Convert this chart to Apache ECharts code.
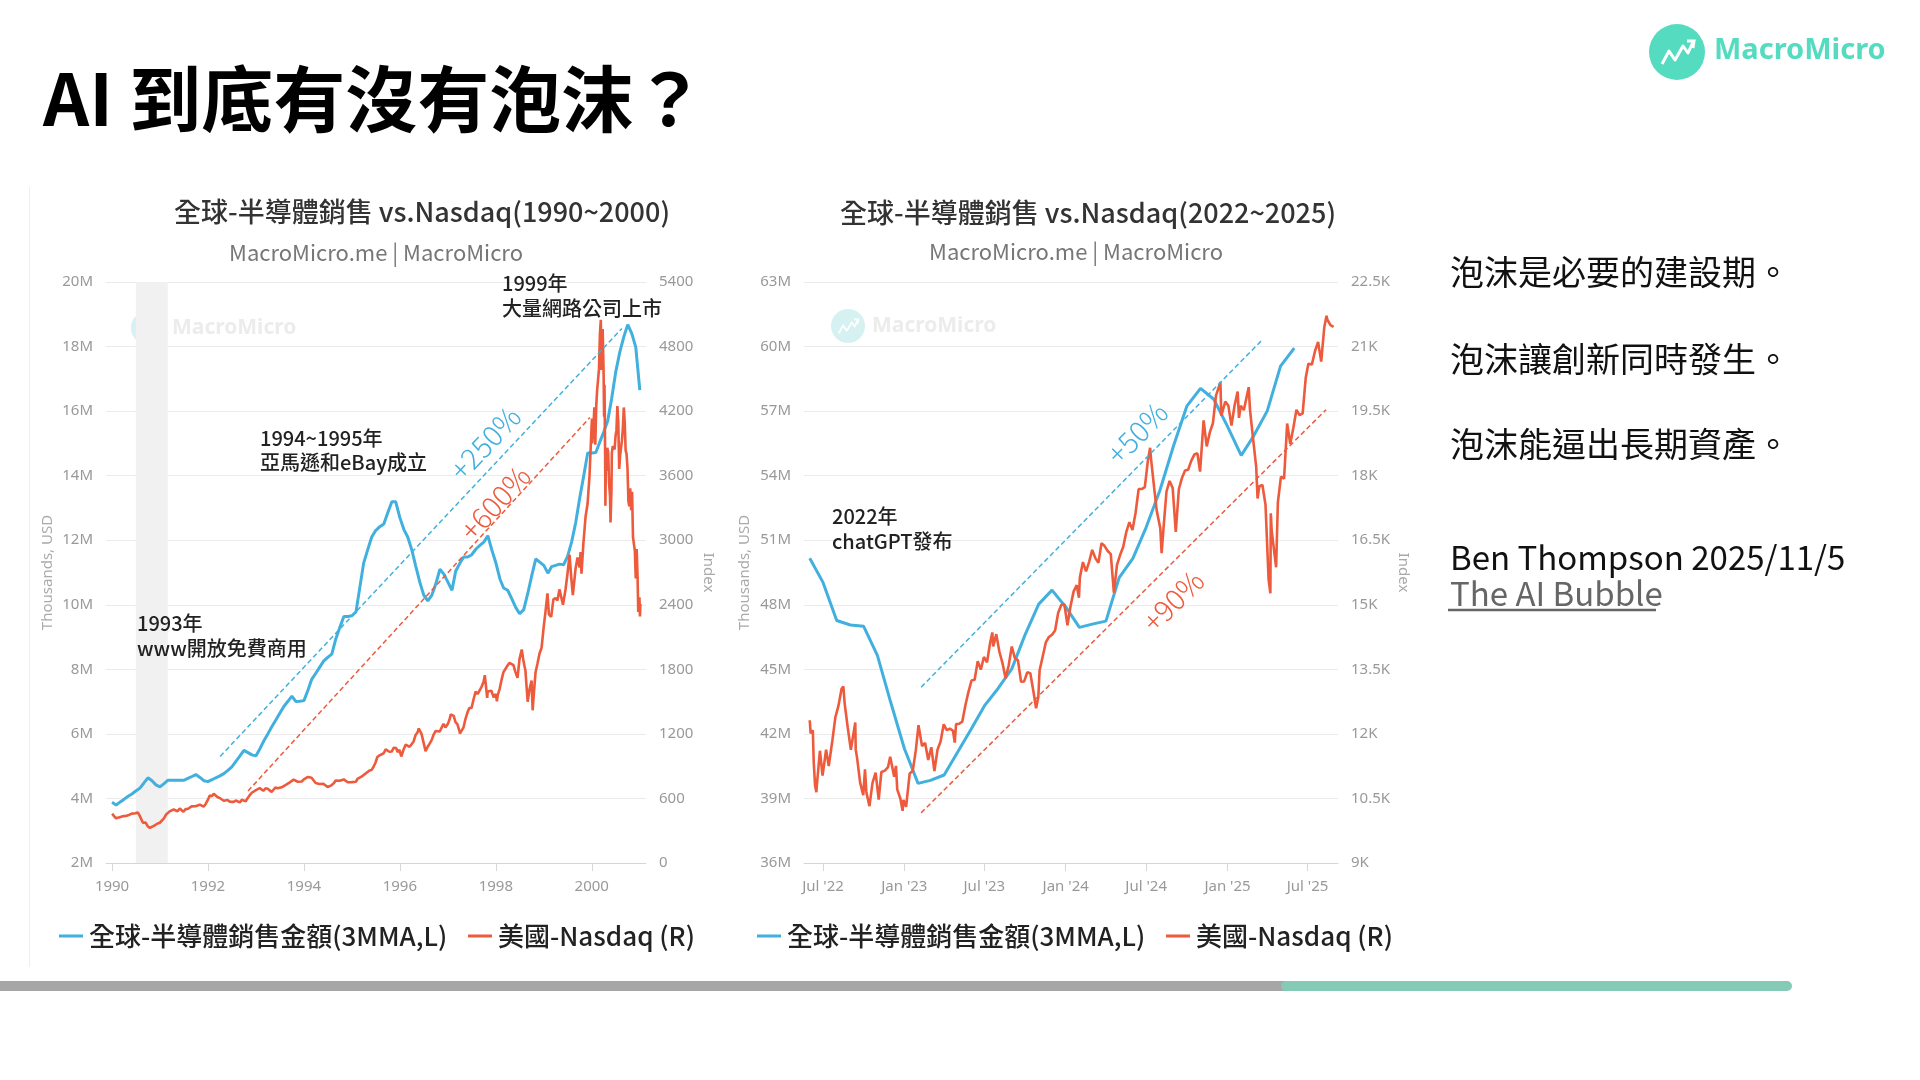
<!DOCTYPE html>
<html>
<head>
<meta charset="utf-8">
<script src="https://cdn.jsdelivr.net/npm/echarts@6/dist/echarts.min.js"></script>
<style>
html, body { margin: 0; padding: 0; background: #fff; }
#main { width: 1920px; height: 1080px; }
</style>
</head>
<body>
<div id="main"></div>
<script>
// ---- data ----
// global semiconductor sales, 3MMA, millions of thousand USD, monthly from Jan 1990
var chipStart90 = '1990-01';
var chipSales90 = [
  3.88, 3.80, 3.88, 3.97, 4.06, 4.14, 4.23, 4.32, 4.48, 4.64, 4.55, 4.42,
  4.36, 4.46, 4.56, 4.56, 4.56, 4.56, 4.56, 4.62, 4.68, 4.74, 4.65, 4.55,
  4.52, 4.58, 4.64, 4.70, 4.77, 4.87, 4.98, 5.15, 5.32, 5.49, 5.42, 5.35,
  5.32, 5.55, 5.78, 6.00, 6.22, 6.43, 6.64, 6.85, 7.01, 7.17, 7.00, 7.01,
  7.03, 7.36, 7.69, 7.88, 8.07, 8.26, 8.37, 8.47, 8.95, 9.30, 9.64, 9.64,
  9.66, 9.78, 10.50, 11.30, 11.70, 12.10, 12.30, 12.42, 12.50, 12.85, 13.19, 13.19,
  12.70, 12.33, 12.10, 11.70, 11.20, 10.70, 10.30, 10.12, 10.30, 10.65, 11.10, 10.95,
  10.70, 10.45, 11.04, 11.28, 11.48, 11.48, 11.55, 11.72, 11.84, 11.94, 12.14, 11.70,
  11.30, 10.80, 10.52, 10.45, 10.20, 9.92, 9.72, 9.85, 10.35, 10.90, 11.42, 11.32,
  11.22, 10.98, 11.18, 11.22, 11.26, 11.24, 11.50, 11.95, 12.55, 13.30, 14.00, 14.70,
  14.70, 14.72, 15.03, 15.35, 15.69, 16.40, 17.20, 17.82, 18.30, 18.68, 18.40, 17.98,
  16.65
];

// Nasdaq composite 1990-2000
var nasdaq90 = [
  ['1990-01-02',459],['1990-01-15',437],['1990-01-31',416],['1990-02-15',434],['1990-02-28',426],
  ['1990-03-15',437],['1990-03-30',436],['1990-04-16',437],['1990-04-30',420],['1990-05-15',449],
  ['1990-05-31',459],['1990-06-15',466],['1990-06-29',462],['1990-07-16',470],['1990-07-31',438],
  ['1990-08-15',425],['1990-08-24',374],['1990-08-31',381],['1990-09-14',375],['1990-09-28',344],
  ['1990-10-16',326],['1990-10-31',330],['1990-11-15',345],['1990-11-30',359],['1990-12-14',367],
  ['1990-12-31',374],
  ['1991-01-15',363],['1991-01-31',414],['1991-02-15',448],['1991-02-28',453],['1991-03-15',480],
  ['1991-03-28',482],['1991-04-15',497],['1991-04-30',485],['1991-05-15',481],['1991-05-31',506],
  ['1991-06-14',497],['1991-06-28',476],['1991-07-15',501],['1991-07-31',502],['1991-08-15',515],
  ['1991-08-30',526],['1991-09-13',522],['1991-09-30',527],['1991-10-15',535],['1991-10-31',543],
  ['1991-11-15',535],['1991-11-29',524],['1991-12-13',544],['1991-12-31',586],
  ['1992-01-15',627],['1992-01-31',620],['1992-02-14',644],['1992-02-28',634],['1992-03-13',613],
  ['1992-03-31',604],['1992-04-15',590],['1992-04-30',579],['1992-05-15',579],['1992-05-29',585],
  ['1992-06-15',570],['1992-06-30',564],['1992-07-15',568],['1992-07-31',581],['1992-08-14',568],
  ['1992-08-31',563],['1992-09-15',588],['1992-09-30',583],['1992-10-15',573],['1992-10-30',605],
  ['1992-11-13',628],['1992-11-30',653],['1992-12-15',661],['1992-12-31',677],
  ['1993-01-15',689],['1993-01-29',696],['1993-02-12',689],['1993-02-26',671],['1993-03-15',694],
  ['1993-03-31',690],['1993-04-15',672],['1993-04-30',661],['1993-05-14',681],['1993-05-28',701],
  ['1993-06-15',695],['1993-06-30',704],['1993-07-15',704],['1993-07-30',705],['1993-08-16',727],
  ['1993-08-31',743],['1993-09-15',750],['1993-09-30',763],['1993-10-15',775],['1993-10-29',779],
  ['1993-11-15',755],['1993-11-30',754],['1993-12-15',758],['1993-12-31',777],
  ['1994-01-14',790],['1994-01-31',800],['1994-02-15',795],['1994-02-28',793],['1994-03-15',790],
  ['1994-03-31',744],['1994-04-15',730],['1994-04-29',734],['1994-05-13',721],['1994-05-31',735],
  ['1994-06-15',735],['1994-06-30',706],['1994-07-15',712],['1994-07-29',722],['1994-08-15',740],
  ['1994-08-31',766],['1994-09-15',772],['1994-09-30',764],['1994-10-14',770],['1994-10-31',777],
  ['1994-11-15',778],['1994-11-30',750],['1994-12-15',738],['1994-12-30',752],
  ['1995-01-13',765],['1995-01-31',755],['1995-02-15',785],['1995-02-28',794],['1995-03-15',802],
  ['1995-03-31',817],['1995-04-13',830],['1995-04-28',844],['1995-05-15',860],['1995-05-31',865],
  ['1995-06-15',895],['1995-06-30',934],['1995-07-14',985],['1995-07-31',1001],['1995-08-15',1010],
  ['1995-08-31',1020],['1995-09-15',1056],['1995-09-29',1044],['1995-10-13',1034],['1995-10-31',1036],
  ['1995-11-15',1070],['1995-11-30',1059],['1995-12-04',1069],['1995-12-15',1030],['1995-12-29',1052],
  ['1996-01-12',990],['1996-01-31',1060],['1996-02-15',1100],['1996-02-29',1100],['1996-03-15',1080],
  ['1996-03-29',1101],['1996-04-15',1130],['1996-04-30',1190],['1996-05-15',1215],['1996-05-24',1250],
  ['1996-05-31',1243],['1996-06-14',1200],['1996-06-28',1185],['1996-07-15',1040],['1996-07-24',1042],
  ['1996-07-31',1081],['1996-08-15',1110],['1996-08-30',1142],['1996-09-13',1190],['1996-09-30',1227],
  ['1996-10-15',1245],['1996-10-31',1222],['1996-11-15',1260],['1996-11-29',1293],['1996-12-13',1260],
  ['1996-12-31',1291],
  ['1997-01-15',1340],['1997-01-22',1380],['1997-01-31',1380],['1997-02-14',1367],['1997-02-28',1309],
  ['1997-03-14',1290],['1997-03-31',1222],['1997-04-02',1202],['1997-04-15',1215],['1997-04-30',1261],
  ['1997-05-15',1340],['1997-05-30',1400],['1997-06-13',1440],['1997-06-30',1442],['1997-07-15',1520],
  ['1997-07-31',1594],['1997-08-15',1570],['1997-08-29',1587],['1997-09-15',1640],['1997-09-30',1686],
  ['1997-10-09',1745],['1997-10-27',1535],['1997-10-31',1594],['1997-11-14',1590],['1997-11-28',1601],
  ['1997-12-15',1540],['1997-12-31',1570],
  ['1998-01-09',1503],['1998-01-15',1560],['1998-01-30',1619],['1998-02-13',1700],['1998-02-27',1771],
  ['1998-03-13',1760],['1998-03-31',1836],['1998-04-15',1860],['1998-04-30',1868],['1998-05-15',1840],
  ['1998-05-29',1779],['1998-06-15',1720],['1998-06-30',1895],['1998-07-17',1985],['1998-07-31',1872],
  ['1998-08-14',1790],['1998-08-31',1499],['1998-09-15',1620],['1998-09-30',1695],['1998-10-08',1419],
  ['1998-10-15',1540],['1998-10-30',1771],['1998-11-13',1850],['1998-11-30',1950],['1998-12-15',2000],
  ['1998-12-31',2193],
  ['1999-01-15',2348],['1999-01-29',2506],['1999-02-09',2310],['1999-02-26',2288],['1999-03-15',2450],
  ['1999-03-31',2461],['1999-04-15',2440],['1999-04-30',2543],['1999-05-14',2530],['1999-05-27',2400],
  ['1999-06-15',2540],['1999-06-30',2686],['1999-07-16',2865],['1999-07-30',2638],['1999-08-10',2490],
  ['1999-08-31',2739],['1999-09-15',2840],['1999-09-30',2746],['1999-10-08',2890],['1999-10-15',2690],
  ['1999-10-29',2966],['1999-11-15',3220],['1999-11-30',3336],['1999-12-15',3600],['1999-12-31',4069],
  ['2000-01-03',4131],['2000-01-04',3901],['2000-01-14',4064],['2000-01-21',4235],['2000-01-28',3887],
  ['2000-02-04',4244],['2000-02-11',4395],['2000-02-18',4411],['2000-02-25',4590],['2000-03-03',4914],
  ['2000-03-10',5048],['2000-03-15',4583],['2000-03-17',4798],['2000-03-24',4964],['2000-03-31',4573],
  ['2000-04-04',4148],['2000-04-07',4446],['2000-04-12',3770],['2000-04-14',3321],['2000-04-18',3794],
  ['2000-04-21',3643],['2000-04-28',3860],['2000-05-05',3817],['2000-05-12',3529],['2000-05-19',3410],
  ['2000-05-23',3164],['2000-05-30',3459],['2000-06-02',3813],['2000-06-09',3874],['2000-06-16',3860],
  ['2000-06-23',3845],['2000-06-30',3966],['2000-07-07',4023],['2000-07-14',4246],['2000-07-21',4095],
  ['2000-07-28',3663],['2000-08-04',3787],['2000-08-11',3789],['2000-08-18',3930],['2000-08-25',4042],
  ['2000-09-01',4234],['2000-09-08',4098],['2000-09-15',3835],['2000-09-22',3803],['2000-09-29',3673],
  ['2000-10-06',3361],['2000-10-13',3316],['2000-10-20',3483],['2000-10-27',3278],['2000-11-03',3451],
  ['2000-11-10',3028],['2000-11-17',3028],['2000-11-24',2904],['2000-12-01',2645],['2000-12-08',2917],
  ['2000-12-15',2653],['2000-12-20',2332],['2000-12-29',2470],['2001-01-02',2291],['2001-01-05',2407]
];

// global semiconductor sales, 3MMA, monthly from Jun 2022
var chipStart22 = '2022-06';
var chipSales22 = [
  50.16, 49.04, 47.27, 47.06, 47.00, 45.65, 43.48,
  41.32, 39.70, 39.84, 40.09, 41.14, 42.22, 43.30, 44.11, 45.02, 46.60, 48.03, 48.68,
  47.90, 46.95, 47.10, 47.24, 49.26, 50.16, 51.60, 53.31, 55.39, 57.23, 58.06, 57.55,
  56.29, 54.94, 55.84, 57.01, 59.09, 59.93
];

// Nasdaq composite 2022-2025
var nasdaq22 = [
  ['2022-06-01',12317],['2022-06-03',12013],['2022-06-08',12086],['2022-06-10',11340],['2022-06-13',10809],
  ['2022-06-16',10646],['2022-06-17',10798],['2022-06-24',11608],['2022-06-30',11029],['2022-07-08',11635],
  ['2022-07-14',11251],['2022-07-22',11834],['2022-07-29',12391],['2022-08-05',12657],['2022-08-12',13047],
  ['2022-08-16',13103],['2022-08-19',12705],['2022-08-26',12142],['2022-09-02',11631],['2022-09-12',12266],
  ['2022-09-13',11634],['2022-09-16',11448],['2022-09-23',10868],['2022-09-30',10576],['2022-10-04',11176],
  ['2022-10-07',10652],['2022-10-14',10321],['2022-10-21',10860],['2022-10-28',11102],['2022-11-04',10475],
  ['2022-11-10',11114],['2022-11-18',11146],['2022-11-25',11226],['2022-11-30',11468],['2022-12-09',11005],
  ['2022-12-13',11256],['2022-12-16',10705],['2022-12-23',10498],['2022-12-28',10213],['2022-12-30',10466],
  ['2023-01-05',10305],['2023-01-13',11079],['2023-01-20',11140],['2023-01-27',11622],['2023-02-02',12201],
  ['2023-02-10',11718],['2023-02-17',11787],['2023-02-24',11395],['2023-03-03',11689],['2023-03-10',11138],
  ['2023-03-17',11631],['2023-03-24',11824],['2023-03-31',12222],['2023-04-07',12088],['2023-04-14',12123],
  ['2023-04-21',12073],['2023-04-25',11799],['2023-04-28',12227],['2023-05-05',12235],['2023-05-12',12284],
  ['2023-05-19',12658],['2023-05-26',12976],['2023-06-02',13241],['2023-06-09',13259],['2023-06-16',13690],
  ['2023-06-23',13492],['2023-06-30',13788],['2023-07-07',13661],['2023-07-14',14114],['2023-07-19',14358],
  ['2023-07-21',14032],['2023-07-28',14317],['2023-08-04',13909],['2023-08-11',13645],['2023-08-18',13291],
  ['2023-08-25',13590],['2023-09-01',14031],['2023-09-08',13762],['2023-09-15',13708],['2023-09-22',13212],
  ['2023-09-29',13219],['2023-10-06',13431],['2023-10-13',13407],['2023-10-20',12984],['2023-10-26',12595],
  ['2023-10-31',12851],['2023-11-03',13478],['2023-11-10',13798],['2023-11-17',14125],['2023-11-24',14251],
  ['2023-12-01',14305],['2023-12-08',14404],['2023-12-15',14814],['2023-12-22',14993],['2023-12-29',15011],
  ['2024-01-05',14524],['2024-01-12',14973],['2024-01-19',15311],['2024-01-26',15455],['2024-01-31',15164],
  ['2024-02-02',15629],['2024-02-09',15991],['2024-02-16',15776],['2024-02-23',15997],['2024-03-01',16275],
  ['2024-03-08',16085],['2024-03-15',15973],['2024-03-22',16429],['2024-03-28',16379],['2024-04-05',16249],
  ['2024-04-12',16175],['2024-04-19',15282],['2024-04-26',15928],['2024-05-03',16156],['2024-05-10',16341],
  ['2024-05-17',16686],['2024-05-24',16921],['2024-05-31',16735],['2024-06-07',17133],['2024-06-14',17689],
  ['2024-06-21',17689],['2024-06-28',17733],['2024-07-05',18353],['2024-07-10',18647],['2024-07-12',18398],
  ['2024-07-19',17727],['2024-07-25',17182],['2024-08-02',16776],['2024-08-05',16200],['2024-08-09',16745],
  ['2024-08-16',17632],['2024-08-23',17877],['2024-08-30',17714],['2024-09-06',16691],['2024-09-13',17684],
  ['2024-09-20',17948],['2024-09-27',18120],['2024-10-04',18138],['2024-10-11',18343],['2024-10-18',18490],
  ['2024-10-25',18519],['2024-10-31',18095],['2024-11-08',19287],['2024-11-15',18680],['2024-11-22',19004],
  ['2024-11-29',19218],['2024-12-06',19860],['2024-12-16',20173],['2024-12-18',19393],['2024-12-27',19722],
  ['2025-01-03',19622],['2025-01-10',19162],['2025-01-17',19630],['2025-01-24',19954],['2025-01-27',19342],
  ['2025-01-31',19627],['2025-02-07',19523],['2025-02-18',20056],['2025-02-21',19524],['2025-02-28',18847],
  ['2025-03-07',18196],['2025-03-10',17468],['2025-03-14',17754],['2025-03-21',17784],['2025-03-28',17323],
  ['2025-04-04',15588],['2025-04-08',15268],['2025-04-09',17125],['2025-04-11',16724],['2025-04-21',15871],
  ['2025-04-25',17383],['2025-05-02',17978],['2025-05-09',17929],['2025-05-16',19212],['2025-05-23',18737],
  ['2025-05-30',19114],['2025-06-06',19530],['2025-06-13',19407],['2025-06-20',19447],['2025-06-27',20273],
  ['2025-07-03',20601],['2025-07-11',20586],['2025-07-18',20896],['2025-07-25',21108],['2025-08-01',20650],
  ['2025-08-08',21450],['2025-08-13',21713],['2025-08-15',21623],['2025-08-22',21496],['2025-08-29',21456]
];

// x ticks
var yearTicks90 = ['1990-01-01', '1992-01-01', '1994-01-01', '1996-01-01', '1998-01-01', '2000-01-01'];
var monthTicks22 = ['2022-07-01', '2023-01-01', '2023-07-01', '2024-01-01', '2024-07-01', '2025-01-01', '2025-07-01'];

// shaded recession, trend arrows [start, end] in [date, value]
var recession90 = ['1990-07-01', '1991-03-01'];
var arrowChip90 = [['1992-04-03', 5.30], ['2000-08-17', 18.56]];
var arrowNdq90 = [['1992-11-01', 669], ['1999-12-18', 4141]];
var arrowChip22 = [['2023-02-08', 44.17], ['2025-03-19', 60.28]];
var arrowNdq22 = [['2023-02-08', 10165], ['2025-08-12', 19533]];

var CHIP = '全球-半導體銷售金額(3MMA,L)';
var NDQ = '美國-Nasdaq (R)';
var BLUE = '#41b0de';
var RED = '#ee5a3c';
var CJK = '"Noto Sans CJK TC", "Noto Sans", sans-serif';
var LAT = '"Noto Sans", sans-serif';

function ts(s) {
  var p = s.split('-');
  return +new Date(+p[0], +p[1] - 1, +(p[2] || 1));
}
function monthly(start, values) {
  var p = start.split('-');
  return values.map(function (v, i) { return [+new Date(+p[0], +p[1] - 1 + i, 1), v]; });
}
function pairs(list) {
  return list.map(function (d) { return [ts(d[0]), d[1]]; });
}
function arrow(a, color) {
  return {
    silent: true,
    symbol: ['none', 'arrow'],
    symbolSize: [0, 9],
    label: { show: false },
    lineStyle: { color: color, width: 1.5, type: [5, 3] },
    emphasis: { disabled: true },
    data: [[{ coord: [ts(a[0][0]), a[0][1]] }, { coord: [ts(a[1][0]), a[1][1]] }]]
  };
}

// dates are drawn on a value axis of timestamps so the ticks can sit on given dates
function dateAxis(grid, min, max, ticks, fmt) {
  var vals = ticks.map(ts);
  return {
    type: 'value', gridIndex: grid, min: ts(min), max: ts(max), scale: true,
    axisLine: { show: true, lineStyle: { color: '#d6d6d6' } },
    axisTick: { show: true, customValues: vals, length: 8, lineStyle: { color: '#d6d6d6' } },
    axisLabel: { customValues: vals, formatter: fmt, color: '#999', fontSize: 15, fontFamily: LAT, margin: 16 },
    splitLine: { show: false }
  };
}
function valAxis(grid, pos, min, max, step, fmt, name, gap, split) {
  return {
    type: 'value', gridIndex: grid, position: pos, min: min, max: max, interval: step,
    axisLine: { show: false }, axisTick: { show: false },
    axisLabel: { formatter: fmt, color: '#999', fontSize: 15, fontFamily: LAT, margin: 13 },
    splitLine: { show: split, lineStyle: { color: '#ebebeb' } },
    name: name, nameLocation: 'middle', nameRotate: pos === 'left' ? 90 : -90, nameGap: gap,
    nameTextStyle: { color: '#aaa', fontSize: 15, fontFamily: LAT }
  };
}

function txt(x, y, text, font, fill, align, valign, rot, lh) {
  return {
    type: 'text', x: x, y: y, rotation: rot || 0, silent: true, z: 100,
    style: {
      text: text, font: font, fill: fill, lineHeight: lh,
      textAlign: align || 'left', align: align || 'left',
      textVerticalAlign: valign || 'middle', verticalAlign: valign || 'middle'
    }
  };
}
function logoMark(cx, cy, r, fill, stroke, z) {
  var k = r / 28;
  var pts = [[-15, 12], [-8, -1], [-2, 8], [6, -6], [11, 1], [16, -10]].map(function (p) {
    return [cx + p[0] * k, cy + p[1] * k];
  });
  return [
    { type: 'circle', silent: true, z: z, shape: { cx: cx, cy: cy, r: r }, style: { fill: fill } },
    { type: 'polyline', silent: true, z: z, shape: { points: pts },
      style: { stroke: stroke, lineWidth: 3 * k, fill: null, lineJoin: 'round' } },
    { type: 'polyline', silent: true, z: z, shape: { points: [[cx + 10 * k, cy - 11 * k], [cx + 17 * k, cy - 11 * k], [cx + 16 * k, cy - 4 * k]] },
      style: { stroke: stroke, lineWidth: 3 * k, fill: null } }
  ];
}
function deg(d) { return d * Math.PI / 180; }

var legendBase = {
  icon: 'rect', itemWidth: 24, itemHeight: 3, itemGap: 0, padding: 0, top: 923, selectedMode: false,
  textStyle: { fontSize: 26, fontWeight: 500, color: '#222', fontFamily: CJK, padding: [0, 0, 0, 1] }
};
function legendAt(left, name) {
  return Object.assign({}, legendBase, { left: left, data: [name] });
}

var graphics = [
  txt(43, 99, 'AI 到底有沒有泡沫？', 'bold 72px ' + CJK, '#000'),
  txt(1714, 51, 'MacroMicro', 'bold 29px ' + LAT, '#55dcc0'),
  { type: 'line', silent: true, shape: { x1: 29.5, y1: 187, x2: 29.5, y2: 967 }, style: { stroke: '#eeeeee', lineWidth: 1 } },

  txt(422, 212, '全球-半導體銷售 vs.Nasdaq(1990~2000)', '500 27px ' + CJK, '#333', 'center'),
  txt(376, 253, 'MacroMicro.me | MacroMicro', '22px ' + CJK, '#777', 'center'),
  txt(1088, 213, '全球-半導體銷售 vs.Nasdaq(2022~2025)', '500 27px ' + CJK, '#333', 'center'),
  txt(1076, 252, 'MacroMicro.me | MacroMicro', '22px ' + CJK, '#777', 'center'),

  txt(172, 328, 'MacroMicro', 'bold 21px ' + LAT, '#ececec'),
  txt(872, 326, 'MacroMicro', 'bold 21px ' + LAT, '#ececec'),

  txt(502, 271, '1999年\n大量網路公司上市', '500 20px ' + CJK, '#222', 'left', 'top', 0, 25),
  txt(260, 426, '1994~1995年\n亞馬遜和eBay成立', '500 20px ' + CJK, '#222', 'left', 'top', 0, 24),
  txt(137, 611, '1993年\nwww開放免費商用', '500 20px ' + CJK, '#222', 'left', 'top', 0, 25),
  txt(832, 504, '2022年\nchatGPT發布', '500 20px ' + CJK, '#222', 'left', 'top', 0, 25),

  txt(485, 443, '+250%', '300 29px ' + CJK, BLUE, 'center', 'middle', deg(46.8)),
  txt(495, 503, '+600%', '300 29px ' + CJK, RED, 'center', 'middle', deg(47.6)),
  txt(1137, 433, '+50%', '300 29px ' + CJK, BLUE, 'center', 'middle', deg(45.7)),
  txt(1173, 601, '+90%', '300 29px ' + CJK, RED, 'center', 'middle', deg(45)),

  txt(1450, 272, '泡沫是必要的建設期。', '34px ' + CJK, '#111'),
  txt(1450, 359, '泡沫讓創新同時發生。', '34px ' + CJK, '#111'),
  txt(1450, 444, '泡沫能逼出長期資產。', '34px ' + CJK, '#111'),
  txt(1450, 557, 'Ben Thompson 2025/11/5', '33px ' + CJK, '#111'),
  txt(1450, 593, 'The AI Bubble', '33px ' + CJK, '#666'),
  { type: 'line', silent: true, shape: { x1: 1448, y1: 610, x2: 1656, y2: 610 }, style: { stroke: '#666', lineWidth: 2.5 } },

  { type: 'rect', silent: true, shape: { x: 0, y: 981, width: 1300, height: 10 }, style: { fill: '#a6a6a6' } },
  { type: 'rect', silent: true, shape: { x: 1281, y: 981, width: 511, height: 10, r: 5 }, style: { fill: '#85cab4' } }
];
graphics = graphics
  .concat(logoMark(1677, 52, 28, '#55dcc0', '#fff', 100))
  .concat(logoMark(148, 328, 17, '#d6f1f2', '#fff', 1))
  .concat(logoMark(848, 326, 17, '#d6f1f2', '#fff', 1));

var chart = echarts.init(document.getElementById('main'));

var option = {
  animation: false,
  backgroundColor: '#fff',
  grid: [
    { left: 106, top: 282, width: 540, height: 581 },
    { left: 804, top: 282, width: 534, height: 581 }
  ],
  xAxis: [
    dateAxis(0, '1989-11-16', '2001-02-17', yearTicks90, function (v) {
      return String(new Date(v).getFullYear());
    }),
    dateAxis(1, '2022-05-19', '2025-09-08', monthTicks22, function (v) {
      var d = new Date(v);
      return (d.getMonth() === 6 ? 'Jul' : 'Jan') + " '" + String(d.getFullYear()).slice(2);
    })
  ],
  yAxis: [
    valAxis(0, 'left', 2, 20, 2, function (v) { return v + 'M'; }, 'Thousands, USD', 51, true),
    valAxis(0, 'right', 0, 5400, 600, function (v) { return String(v); }, 'Index', 55, false),
    valAxis(1, 'left', 36, 63, 3, function (v) { return v + 'M'; }, 'Thousands, USD', 52, true),
    valAxis(1, 'right', 9000, 22500, 1500, function (v) { return (v / 1000) + 'K'; }, 'Index', 58, false)
  ],
  legend: [
    legendAt(59, CHIP), legendAt(468, NDQ),
    legendAt(757, CHIP), legendAt(1166, NDQ)
  ],
  series: [
    {
      name: CHIP, type: 'line', xAxisIndex: 0, yAxisIndex: 0,
      data: monthly(chipStart90, chipSales90),
      color: BLUE, itemStyle: { color: BLUE },
      showSymbol: false, symbol: 'none', lineStyle: { width: 3, color: BLUE }, z: 3,
      markArea: {
        silent: true,
        itemStyle: { color: '#f1f1f1' },
        data: [[{ xAxis: ts(recession90[0]) }, { xAxis: ts(recession90[1]) }]]
      },
      markLine: arrow(arrowChip90, BLUE)
    },
    {
      name: NDQ, type: 'line', xAxisIndex: 0, yAxisIndex: 1,
      data: pairs(nasdaq90),
      color: RED, itemStyle: { color: RED },
      showSymbol: false, symbol: 'none', lineStyle: { width: 2.6, color: RED }, z: 4,
      markLine: arrow(arrowNdq90, RED)
    },
    {
      name: CHIP, type: 'line', xAxisIndex: 1, yAxisIndex: 2,
      data: monthly(chipStart22, chipSales22),
      color: BLUE, itemStyle: { color: BLUE },
      showSymbol: false, symbol: 'none', lineStyle: { width: 3, color: BLUE }, z: 3,
      markLine: arrow(arrowChip22, BLUE)
    },
    {
      name: NDQ, type: 'line', xAxisIndex: 1, yAxisIndex: 3,
      data: pairs(nasdaq22),
      color: RED, itemStyle: { color: RED },
      showSymbol: false, symbol: 'none', lineStyle: { width: 2.6, color: RED }, z: 4,
      markLine: arrow(arrowNdq22, RED)
    }
  ],
  graphic: graphics
};

chart.setOption(option);
</script>
</body>
</html>
